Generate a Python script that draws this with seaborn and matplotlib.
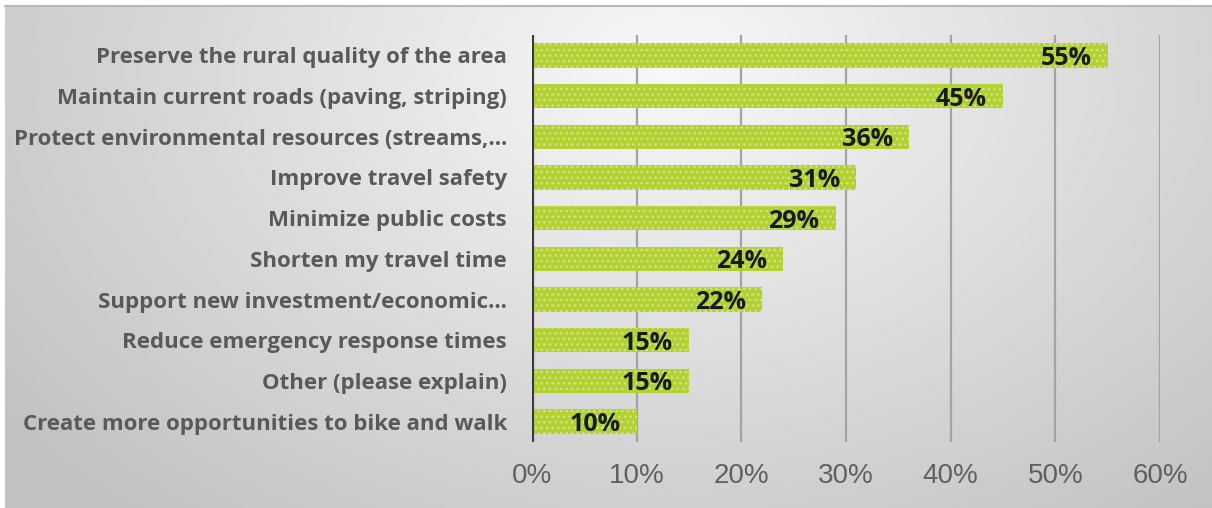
import numpy as np
import pandas as pd
import matplotlib
matplotlib.use("Agg")
import matplotlib.pyplot as plt
import seaborn as sns
from matplotlib.transforms import offset_copy

categories = [
    "Preserve the rural quality of the area",
    "Maintain current roads (paving, striping)",
    "Protect environmental resources (streams,\u2026",
    "Improve travel safety",
    "Minimize public costs",
    "Shorten my travel time",
    "Support new investment/economic\u2026",
    "Reduce emergency response times",
    "Other (please explain)",
    "Create more opportunities to bike and walk",
]
values = [55, 45, 36, 31, 29, 24, 22, 15, 15, 10]
tick_values = [0, 10, 20, 30, 40, 50, 60]
tick_labels = ["0%", "10%", "20%", "30%", "40%", "50%", "60%"]

sns.set_theme(style="white")
plt.rcParams["hatch.linewidth"] = 1.0

W, H = 1212, 508
fig = plt.figure(figsize=(W / 100, H / 100), dpi=100)
fig.patch.set_facecolor("white")

# gradient background panel
bg = fig.add_axes([5 / W, 0, 1 - 5 / W, 1 - 6 / H])
yy, xx = np.mgrid[0:1:300j, 0:1:700j]
d = np.sqrt(((xx - 0.55) / 0.62) ** 2 + ((yy - 0.12) / 1.05) ** 2)
val = 0.97 - 0.19 * np.clip(d, 0, 1.2)
val = np.clip(val, 0.76, 1)
bg.imshow(val, cmap="gray", vmin=0, vmax=1, aspect="auto", extent=[0, 1, 0, 1],
          origin="upper", interpolation="bilinear")
bg.set_axis_off()
fig.add_artist(plt.Line2D([5 / W, 1], [1 - 6 / H, 1 - 6 / H], color="#b8b8b8", lw=1.5,
                          transform=fig.transFigure))

x0, x1 = 532, 1160
y_top, y_bot = 35, 442
ax = fig.add_axes([x0 / W, 1 - y_bot / H, (x1 - x0) / W, (y_bot - y_top) / H])
ax.patch.set_alpha(0)

df = pd.DataFrame({"category": categories, "value": values})
sns.barplot(data=df, x="value", y="category", orient="h", color="#b3d236",
            saturation=1, width=0.6, ax=ax, zorder=3)
for p in ax.patches:
    p.set_hatch("...")
    p.set_edgecolor("#d0e584")
    p.set_linewidth(0)
    p.set_facecolor("#b2d233")

ax.set_xlim(0, 60)
ax.set_ylim(len(categories) - 0.5, -0.5)
ax.set_xticks(tick_values)
ax.set_xticklabels(tick_labels)
for t in tick_values[1:]:
    ax.axvline(t, color="#a3a3a3", lw=1.6, zorder=1)
ax.axvline(0, color="#3a3a3a", lw=3, zorder=4)
for s in ax.spines.values():
    s.set_visible(False)
ax.tick_params(axis="both", length=0)
ax.tick_params(axis="x", pad=15, labelsize=20, labelcolor="#606060")
ax.tick_params(axis="y", pad=18, labelsize=16, labelcolor="#595959")
for lbl in ax.get_xticklabels():
    lbl.set_fontfamily("Liberation Sans")
for lbl in ax.get_yticklabels():
    lbl.set_fontfamily("Open Sans")
    lbl.set_fontweight("bold")
ax.set_xlabel("")
ax.set_ylabel("")

tr = offset_copy(ax.transData, fig=fig, x=-16, y=-3, units="dots")
for i, v in enumerate(values):
    ax.text(v, i, f"{v}%", transform=tr, ha="right", va="center",
            fontsize=18, fontweight="bold", color="#1a1a1a", family="Open Sans",
            zorder=5)

fig.savefig("out.png", dpi=100)
